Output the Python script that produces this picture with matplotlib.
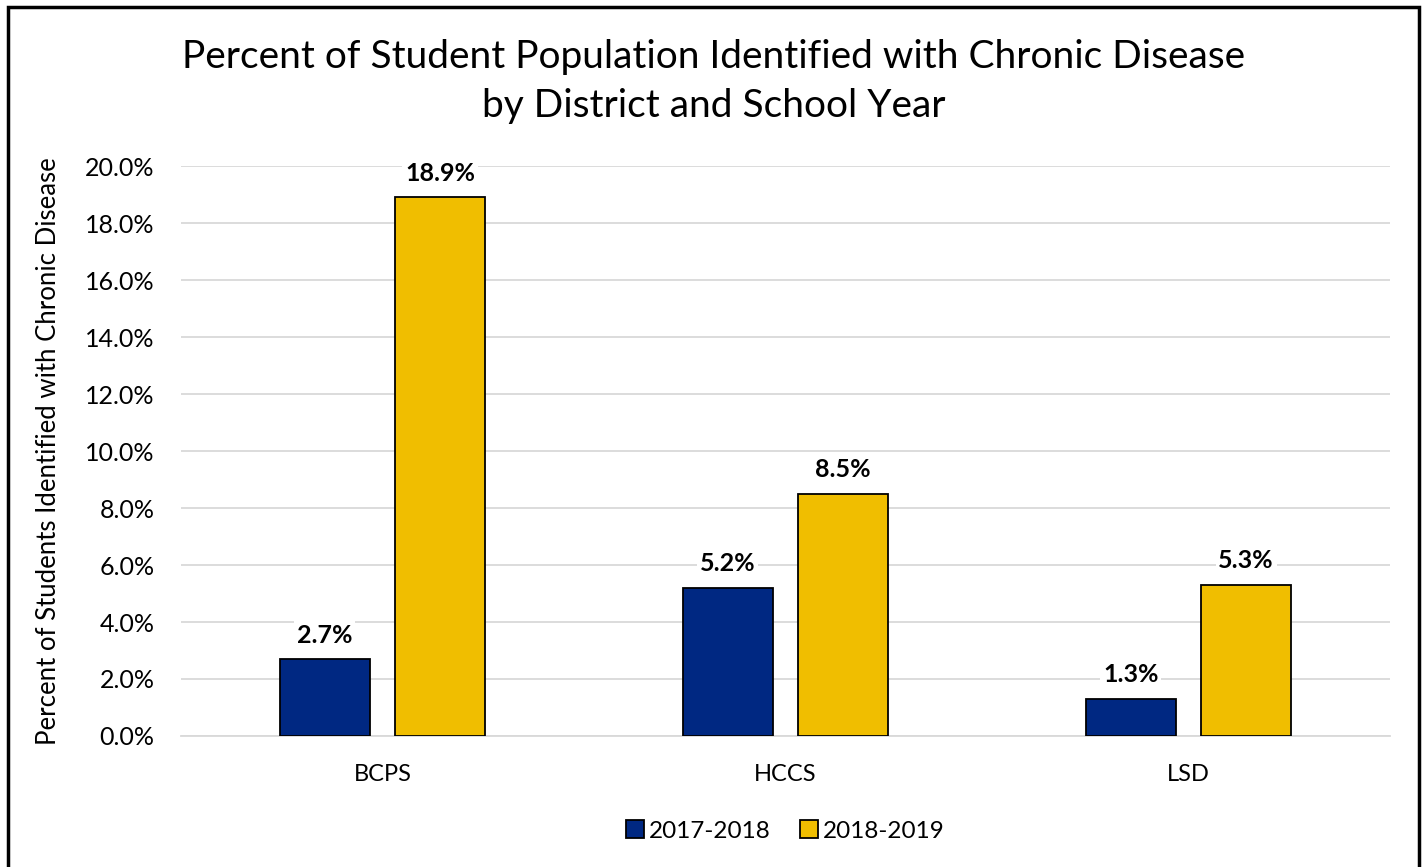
import matplotlib.pyplot as plt
import matplotlib.patches as patches
from matplotlib.ticker import FuncFormatter
import numpy as np

plt.rcParams['font.family'] = ['Lato', 'DejaVu Sans']

districts = ["BCPS", "HCCS", "LSD"]
years = ["2017-2018", "2018-2019"]
pct_2017 = [2.7, 5.2, 1.3]
pct_2018 = [18.9, 8.5, 5.3]
colors = ["#002882", "#F0BE00"]

fig = plt.figure(figsize=(14.27, 8.67), dpi=100)
ax = fig.add_axes([0.1268, 0.1511, 0.8473, 0.6574])

x = np.arange(len(districts))
width = 0.223
offset = 0.143

for vals, pos, col, name in [(pct_2017, x - offset, colors[0], years[0]),
                             (pct_2018, x + offset, colors[1], years[1])]:
    bars = ax.bar(pos, vals, width, color=col, edgecolor="black",
                  linewidth=1.3, label=name, zorder=3)
    for b, v in zip(bars, vals):
        ax.annotate("%.1f%%" % v, (b.get_x() + b.get_width() / 2, v),
                    xytext=(0, 9), textcoords="offset points",
                    ha="center", va="bottom", fontsize=18, fontweight="bold",
                    bbox=dict(facecolor="white", edgecolor="none", pad=2),
                    zorder=4)

ax.set_xlim(-0.5, 2.5)
ax.set_ylim(0, 20)
ax.set_yticks(np.arange(0, 20.1, 2))
ax.yaxis.set_major_formatter(FuncFormatter(lambda v, p: "%.1f%%" % v))
ax.set_xticks(x)
ax.set_xticklabels(districts)
ax.tick_params(axis="both", length=0, colors="black")
ax.tick_params(axis="x", pad=20, labelsize=17)
ax.tick_params(axis="y", pad=19, labelsize=18)
ax.grid(axis="y", color="#d9d9d9", linewidth=1.3, zorder=0)
for s in ["top", "right", "left"]:
    ax.spines[s].set_visible(False)
ax.spines["bottom"].set_color("#d9d9d9")
ax.spines["bottom"].set_linewidth(1.3)

ax.set_ylabel("Percent of Students Identified with Chronic Disease",
              fontsize=18.5, labelpad=17)

fig.text(0.5, 0.9056, "Percent of Student Population Identified with Chronic Disease\nby District and School Year",
         ha="center", va="center", fontsize=28, linespacing=1.45)

ax.legend(loc="center", bbox_to_anchor=(0.5, -0.167), ncol=2, frameon=False,
          fontsize=17.5, handlelength=0.75, handleheight=0.75, handletextpad=0.2,
          columnspacing=1.2)

# outer frame around the chart
fig.patches.append(patches.Rectangle((7.5 / 1427, -0.05), 1411 / 1427, 1.05 - 7 / 867,
                                     transform=fig.transFigure, fill=False,
                                     edgecolor="black", linewidth=2.5))

fig.savefig("out.png", dpi=100)
